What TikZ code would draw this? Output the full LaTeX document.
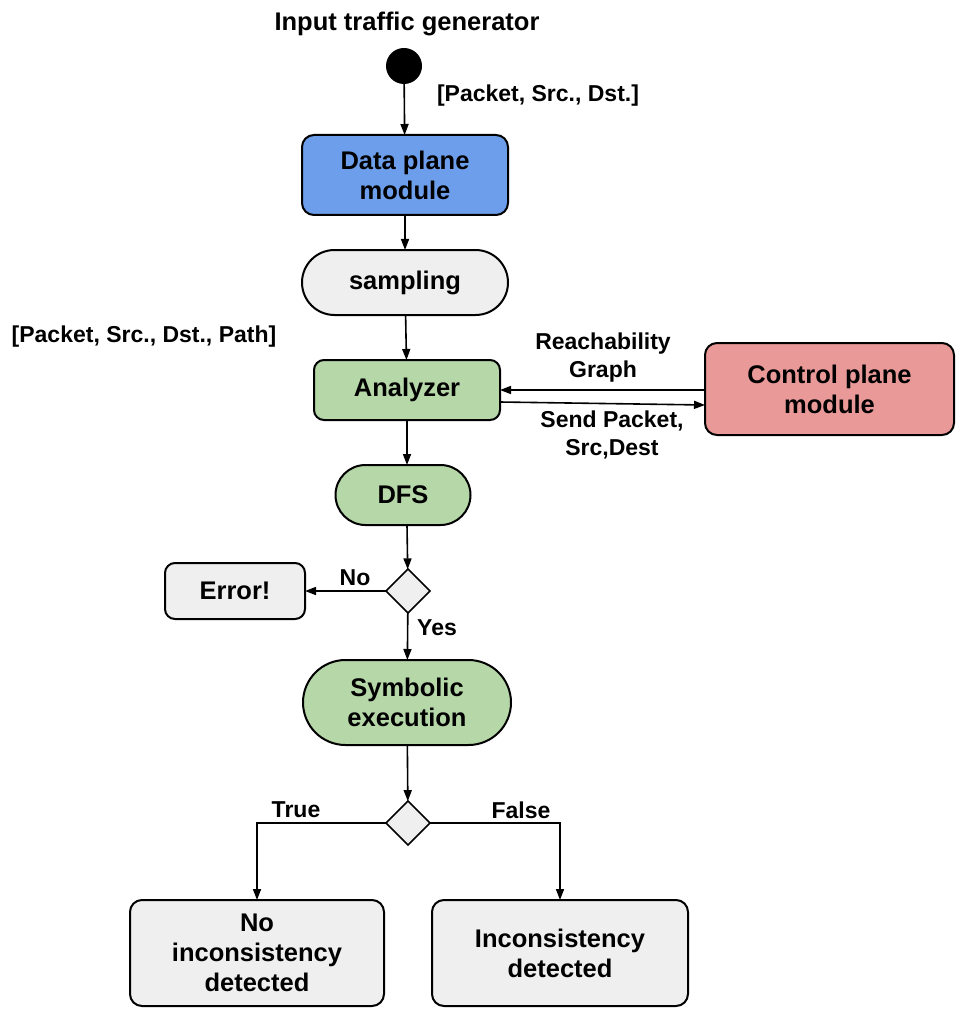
\documentclass[tikz,border=0pt]{standalone}
\usepackage{fontspec}
\setmainfont{Liberation Sans}
\usetikzlibrary{shapes.geometric,shapes.misc,arrows.meta}
\definecolor{dblue}{HTML}{6D9EEB}
\definecolor{lgray}{HTML}{EFEFEF}
\definecolor{lgreen}{HTML}{B6D7A8}
\definecolor{lred}{HTML}{EA9999}
\begin{document}
\begin{tikzpicture}[x=1pt,y=-1pt,
  font=\bfseries\fontsize{25.5}{30}\selectfont,
  every node/.style={inner sep=0pt,outer sep=0pt},
  box/.style={draw=black,line width=2pt,rounded corners=12pt,align=center},
  pill/.style={draw=black,line width=2pt,rounded rectangle,align=center},
  dia/.style={draw=black,line width=1.6pt,diamond,fill=lgray,minimum width=44pt,minimum height=44pt},
  arr/.style={line width=1.6pt,-{Triangle[length=11pt,width=8pt]}},
  lbl/.style={font=\bfseries\fontsize{23}{28}\selectfont,align=center}]
\useasboundingbox (0,0) rectangle (969,1024);
\node (title) at (407,24) {Input traffic generator};
\node[circle,fill=black,minimum size=36pt] (start) at (404,66) {};
\node[box,fill=dblue,minimum width=206pt,minimum height=80pt] (dp) at (405,175) {Data plane\\module};
\node[pill,fill=lgray,minimum width=206pt,minimum height=65pt] (samp) at (405,282.5) {sampling};
\node[box,fill=lgreen,rounded corners=10pt,minimum width=186pt,minimum height=60pt] (an) at (407,390) {Analyzer};
\node[box,fill=lred,minimum width=249pt,minimum height=92pt] (cp) at (829.5,389) {Control plane\\module};
\node[pill,fill=lgreen,minimum width=135pt,minimum height=60pt] (dfs) at (403,495) {DFS};
\node[dia] (d1) at (408,591) {};
\node[box,fill=lgray,rounded corners=10pt,minimum width=140pt,minimum height=56pt] (err) at (235,591) {Error!};
\node[pill,fill=lgreen,minimum width=208pt,minimum height=85pt] (sym) at (407,702.5) {Symbolic\\execution};
\node[dia] (d2) at (408,823) {};
\node[box,fill=lgray,minimum width=254pt,minimum height=106pt] (noinc) at (257,953) {No\\inconsistency\\detected};
\node[box,fill=lgray,minimum width=256pt,minimum height=106pt] (inc) at (560,953) {Inconsistency\\detected};
\node[lbl] (l1) at (538,96) {[Packet, Src., Dst.]};
\node[lbl] (l2) at (144,337) {[Packet, Src., Dst., Path]};
\node[lbl] (l3) at (603,358) {Reachability\\Graph};
\node[lbl] (l4) at (612,435) {Send Packet,\\Src,Dest};
\node[lbl] (l5) at (355,578) {No};
\node[lbl] (l6) at (437,628) {Yes};
\node[lbl] (l7) at (296,810) {True};
\node[lbl] (l8) at (521,810) {False};
\draw[arr] (start) -- (dp);
\draw[arr] (dp) -- (samp);
\draw[arr] (samp) -- (an);
\draw[arr] (cp.west |- 0,390) -- (an.east |- 0,390);
\draw[arr] (an.east |- 0,402) -- (cp.west |- 0,405);
\draw[arr] (an) -- (dfs.north -| an);
\draw[arr] (dfs.south -| an) -- (d1);
\draw[arr] (d1) -- (err);
\draw[arr] (d1) -- (sym);
\draw[arr] (sym) -- (d2);
\draw[arr] (d2.west) -| (noinc.north);
\draw[arr] (d2.east) -| (inc.north);
\end{tikzpicture}
\end{document}
